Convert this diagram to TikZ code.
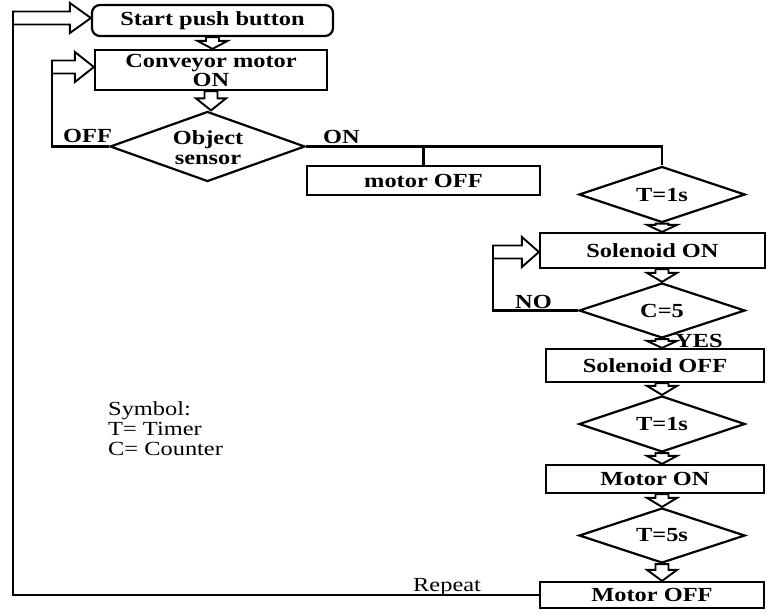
\documentclass[tikz,border=0pt]{standalone}
\usepackage{fontspec}
\setmainfont{Liberation Serif}[FakeStretch=1.22]
\usetikzlibrary{shapes.geometric,calc}
\newcommand\fsz{\fontsize{20}{20}\selectfont}
\begin{document}
\begin{tikzpicture}[x=1pt,y=-1pt,
  lw/.style={line width=2.2pt},
  box/.style={draw, lw, rectangle, inner sep=0pt, font=\bfseries\fsz, align=center},
  dia/.style={draw, lw, diamond, inner sep=0pt, minimum width=166pt, minimum height=56pt},
  dtxt/.style={font=\bfseries\fsz, inner sep=0pt, align=center},
  lbl/.style={font=\bfseries\fsz, inner sep=0pt, anchor=base west},
  note/.style={font=\fsz, inner sep=0pt, anchor=base west, align=left},
  conn/.style={lw},
  hollow/.style={draw, fill=white, line width=1.9pt, line join=miter,
    to path={
      ($(\tikztostart)!6.5pt!90:(\tikztotarget)$)
      -- ($(\tikztotarget)!#1!(\tikztostart)!6.5pt!90:(\tikztotarget)$)
      -- ($(\tikztotarget)!#1!(\tikztostart)!15pt!90:(\tikztotarget)$)
      -- (\tikztotarget)
      -- ($(\tikztotarget)!#1!(\tikztostart)!15pt!-90:(\tikztotarget)$)
      -- ($(\tikztotarget)!#1!(\tikztostart)!6.5pt!-90:(\tikztotarget)$)
      -- ($(\tikztostart)!6.5pt!-90:(\tikztotarget)$)
      -- cycle}},
  hollow/.default=9pt
]
\useasboundingbox (0,0) rectangle (767,613);

% boxes
\node[box, rounded corners=8pt, minimum width=241pt, minimum height=31pt] (start) at (212.5,20.5) {Start push button};
\node[box, minimum width=232pt, minimum height=40pt, font=\bfseries\fontsize{20}{19}\selectfont] (conv) at (211,70) {Conveyor motor\\ON};
\node[dia, minimum width=195pt, minimum height=70pt] (sensor) at (207.5,146.5) {};
\node[dtxt, font=\bfseries\fontsize{20}{20}\selectfont] (sensortxt) at (208,148) {Object\\sensor};
\node[box, minimum width=233pt, minimum height=29pt] (motoroff1) at (423.5,180.5) {motor OFF};

\node[dia] (t1) at (662,194.5) {};
\node[dtxt] (t1txt) at (t1) {T=1s};
\node[box, minimum width=225pt, minimum height=35pt] (solon) at (652.5,250.5) {Solenoid ON};
\node[dia, minimum height=55pt] (c5) at (662,310.5) {};
\node[dtxt] (c5txt) at (c5) {C=5};
\node[box, minimum width=218pt, minimum height=33pt] (soloff) at (655,365.5) {Solenoid OFF};
\node[dia, minimum height=56pt] (t2) at (662,424) {};
\node[dtxt] (t2txt) at (t2) {T=1s};
\node[box, minimum width=218pt, minimum height=28pt] (moton) at (655,479) {Motor ON};
\node[dia, minimum height=55pt] (t5) at (662,535.5) {};
\node[dtxt] (t5txt) at (t5) {T=5s};
\node[box, minimum width=224pt, minimum height=26pt] (motoff2) at (652,595) {Motor OFF};

% labels
\node[lbl] (lOFF) at (63,142) {OFF};
\node[lbl] (lON) at (323,143) {ON};
\node[lbl] (lNO) at (515,308) {NO};
\node[note] (sym1) at (108,415) {Symbol:};
\node[note] (sym2) at (108,435) {T= Timer};
\node[note] (sym3) at (108,455) {C= Counter};
\node[note] (rep) at (413,591) {Repeat};

% plain connectors
\coordinate (offc) at (52,67);
\coordinate (noc) at (493,252);
\coordinate (repc) at (13,18);
\draw[conn] (sensor.east) -| (t1.north);
\draw[conn] (motoroff1.north |- sensor.east) -- (motoroff1.north);
\draw[conn] (sensor.west) -| (offc);
\draw[conn] (c5.west) -| (noc);
\draw[conn] (motoff2.west) -| (repc);

% hollow arrows
\draw[hollow=19pt] (offc) to (conv.west |- offc);
\draw[hollow=17pt] (noc) to (solon.west |- noc);
\draw[hollow=21pt] (repc) to (start.west |- repc);
\draw[hollow=8pt] (start.south) to (start.south |- conv.north);
\draw[hollow=12pt] (conv.south) to (conv.south |- sensor.north);
\draw[hollow=7pt] (t1.south) to (t1.south |- solon.north);
\draw[hollow=9pt] (solon.south -| c5.north) to (c5.north);
\draw[hollow=7pt] (c5.south) to (c5.south |- soloff.north);
\draw[hollow=9pt] (soloff.south -| t2.north) to (t2.north);
\draw[hollow=8pt] (t2.south) to (t2.south |- moton.north);
\draw[hollow=9pt] (moton.south -| t5.north) to (t5.north);
\draw[hollow=11pt] (t5.south) to (t5.south |- motoff2.north);

\node[lbl] (lYES) at (675,347) {YES};
\end{tikzpicture}
\end{document}
